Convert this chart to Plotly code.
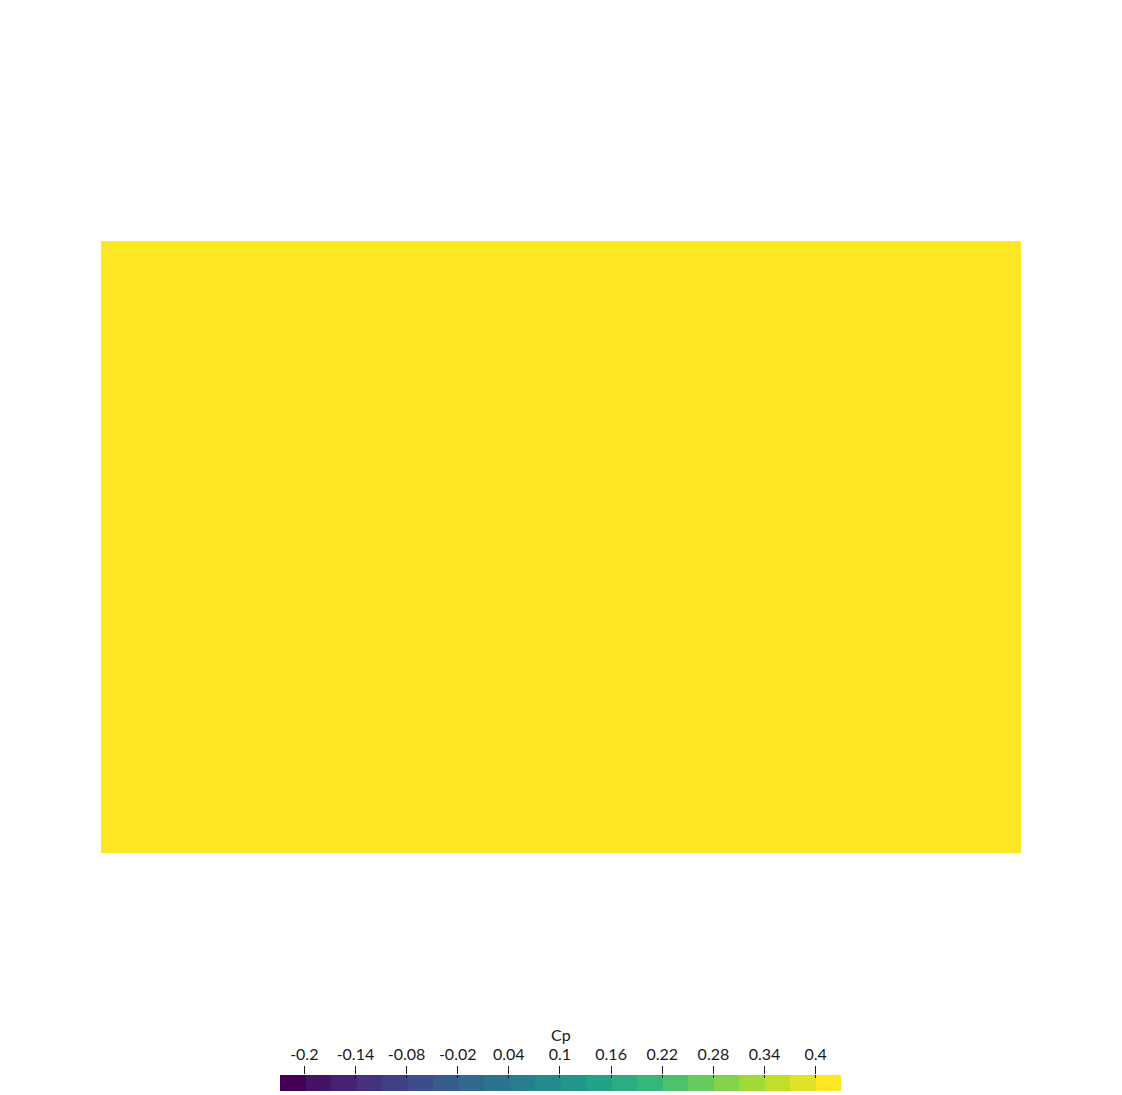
import numpy as np
import plotly.graph_objects as go

# Data
cp_field = [[0.43]]            # uniform Cp over the whole surface
cp_min, cp_max = -0.2285, 0.4297  # colour map range
n_bands = 22                   # discrete colour bands
tick_vals = [-0.2, -0.14, -0.08, -0.02, 0.04, 0.1, 0.16, 0.22, 0.28, 0.34, 0.4]
tick_text = ["-0.2", "-0.14", "-0.08", "-0.02", "0.04", "0.1", "0.16", "0.22", "0.28", "0.34", "0.4"]
title_text = "Cp"

edges = np.linspace(cp_min, cp_max, n_bands + 1)
centers = (edges[:-1] + edges[1:]) / 2

W, H = 1122, 1095
font = dict(family="Lato, 'Noto Sans', sans-serif", size=16, color="#1a1a1a")

fig = go.Figure()
fig.add_trace(go.Heatmap(z=cp_field, x=[0, 1], y=[0, 1], coloraxis="coloraxis",
                         xaxis="x", yaxis="y", hoverinfo="skip"))
fig.add_trace(go.Heatmap(z=[centers.tolist()], x=edges.tolist(), y=[0, 1],
                         coloraxis="coloraxis", xaxis="x2", yaxis="y2", hoverinfo="skip"))
# short inward tick stubs on the bar
fig.add_trace(go.Scatter(x=tick_vals, y=[0.5] * len(tick_vals), mode="markers",
                         marker=dict(opacity=0), xaxis="x3", yaxis="y2",
                         hoverinfo="skip", showlegend=False))

fig.update_layout(
    width=W, height=H, margin=dict(l=0, r=0, t=0, b=0),
    paper_bgcolor="white", plot_bgcolor="rgba(0,0,0,0)", font=font,
    coloraxis=dict(colorscale="Viridis", cmin=centers[0], cmax=centers[-1], showscale=False),
    xaxis=dict(domain=[101 / W, 1021 / W], range=[0, 1], visible=False, fixedrange=True),
    yaxis=dict(domain=[1 - 853 / H, 1 - 241 / H], range=[0, 1], visible=False, fixedrange=True),
    xaxis2=dict(domain=[280 / W, 841 / W], range=[cp_min, cp_max], anchor="y2", side="top",
                tickvals=tick_vals, ticktext=tick_text, ticks="outside", ticklen=8,
                tickcolor="#1a1a1a", tickwidth=1, showgrid=False, zeroline=False,
                showline=False, tickfont=font),
    xaxis3=dict(domain=[280 / W, 841 / W], range=[cp_min, cp_max], anchor="y2", side="top",
                overlaying="x2", tickvals=tick_vals, ticks="inside", ticklen=3,
                tickcolor="#1a1a1a", tickwidth=1, showticklabels=False, showgrid=False,
                zeroline=False, showline=False),
    yaxis2=dict(domain=[1 - 1091 / H, 1 - 1075 / H], range=[0, 1], visible=False, fixedrange=True),
    annotations=[dict(text=title_text, x=0.5 * (280 + 841) / W, y=1 - 1034 / H,
                      xref="paper", yref="paper", xanchor="center", yanchor="middle",
                      showarrow=False, font=font)],
)

fig.write_html("out.html")
